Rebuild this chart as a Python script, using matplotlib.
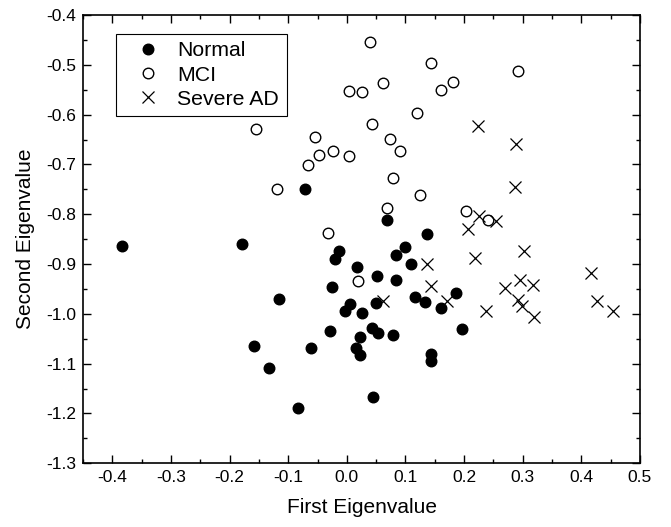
import matplotlib
matplotlib.use("Agg")
import matplotlib.pyplot as plt
from matplotlib.ticker import MultipleLocator

#----------------------------------------------------------
# data (first / second eigenvalue)
normal_x = [-0.383, -0.178, -0.072, -0.115, -0.158, -0.132, -0.084, -0.061,
            -0.028, -0.025, 0.069, -0.014, -0.020, 0.018, 0.083, 0.052,
            0.083, 0.006, -0.003, 0.025, 0.049, 0.043, 0.053, 0.023,
            0.079, 0.015, 0.022, 0.045, 0.100, 0.109, 0.116, 0.134,
            0.160, 0.187, 0.197, 0.143, 0.143, 0.137]
normal_y = [-0.863, -0.860, -0.749, -0.971, -1.064, -1.108, -1.190, -1.069,
            -1.034, -0.947, -0.811, -0.873, -0.889, -0.906, -0.882, -0.924,
            -0.932, -0.980, -0.994, -0.999, -0.978, -1.029, -1.039, -1.046,
            -1.043, -1.069, -1.083, -1.166, -0.866, -0.900, -0.966, -0.977,
            -0.988, -0.958, -1.031, -1.081, -1.094, -0.840]

mci_x = [-0.155, -0.119, -0.067, -0.055, -0.048, -0.024, -0.032, 0.003,
         0.003, 0.026, 0.039, 0.043, 0.061, 0.073, 0.078, 0.069,
         0.091, 0.120, 0.124, 0.144, 0.160, 0.181, 0.292, 0.204,
         0.240, 0.019]
mci_y = [-0.629, -0.749, -0.702, -0.644, -0.682, -0.673, -0.837, -0.684,
         -0.553, -0.555, -0.455, -0.619, -0.537, -0.648, -0.727, -0.788,
         -0.673, -0.597, -0.761, -0.496, -0.550, -0.535, -0.512, -0.794,
         -0.812, -0.935]

ad_x = [0.224, 0.288, 0.286, 0.226, 0.255, 0.207, 0.218, 0.302,
        0.137, 0.144, 0.171, 0.238, 0.269, 0.295, 0.318, 0.292,
        0.299, 0.319, 0.417, 0.426, 0.454, 0.061]
ad_y = [-0.622, -0.658, -0.745, -0.804, -0.813, -0.829, -0.887, -0.874,
        -0.899, -0.944, -0.974, -0.994, -0.949, -0.932, -0.943, -0.972,
        -0.984, -1.006, -0.917, -0.974, -0.994, -0.974]


#----------------------------------------------------------
def main():
    plt.rcParams['font.family'] = ['Liberation Sans', 'DejaVu Sans']

    fig = plt.figure(figsize=(6.71, 5.27), dpi=100)
    ax = fig.add_axes([0.1237, 0.1209, 0.8301, 0.8506])

    ax.plot(normal_x, normal_y, 'o', color='black', markersize=7.6,
            markeredgewidth=1.0, label='Normal')
    ax.plot(mci_x, mci_y, 'o', markerfacecolor='white', markeredgecolor='black',
            markersize=7.6, markeredgewidth=1.0, label='MCI')
    ax.plot(ad_x, ad_y, 'x', color='black', markersize=8.2,
            markeredgewidth=0.9, label='Severe AD')

    ax.set_xlim(-0.45, 0.5)
    ax.set_ylim(-1.3, -0.4)
    ax.xaxis.set_major_locator(MultipleLocator(0.1))
    ax.xaxis.set_minor_locator(MultipleLocator(0.05))
    ax.yaxis.set_major_locator(MultipleLocator(0.1))
    ax.yaxis.set_minor_locator(MultipleLocator(0.05))
    ax.xaxis.set_major_formatter(lambda v, p: f'{v:.1f}')
    ax.yaxis.set_major_formatter(lambda v, p: f'{v:.1f}')

    ax.tick_params(which='both', direction='in', top=True, right=True,
                   width=1.0, colors='black')
    ax.tick_params(which='major', length=6, labelsize=12.5, pad=5)
    ax.tick_params(which='minor', length=3)
    for s in ax.spines.values():
        s.set_linewidth(1.2)

    ax.set_xlabel('First Eigenvalue', fontsize=15, labelpad=9)
    ax.set_ylabel('Second Eigenvalue', fontsize=15, labelpad=8)

    leg = ax.legend(loc='upper left', bbox_to_anchor=(0.059, 0.958),
                    borderaxespad=0, fontsize=15.3, fancybox=False,
                    edgecolor='black', framealpha=1, labelspacing=0.25,
                    handlelength=2.3, handletextpad=0.25, borderpad=0.35)
    leg.get_frame().set_linewidth(0.8)

    fig.savefig('out.png', dpi=100)


#----------------------------------------------------------
if __name__ == '__main__':
    main()
